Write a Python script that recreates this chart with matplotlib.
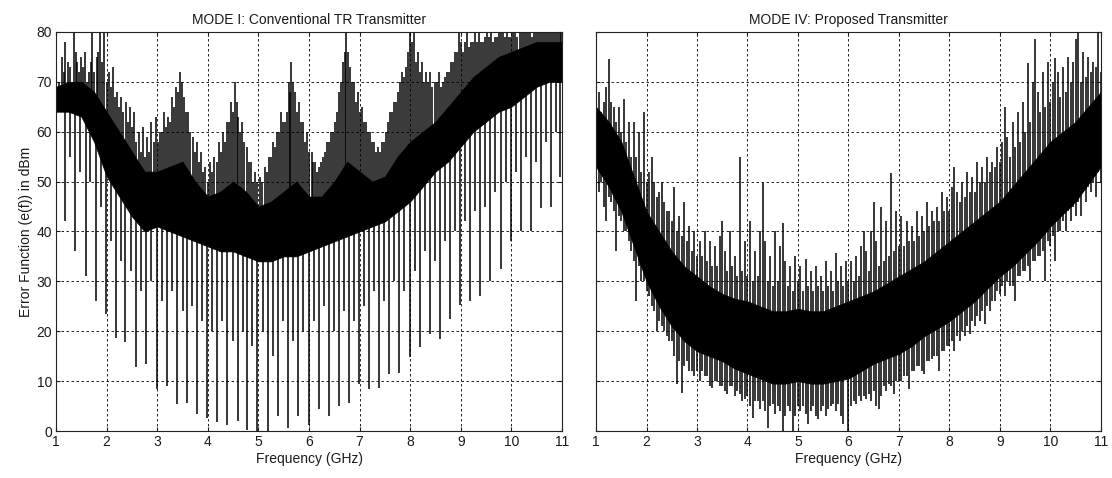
import numpy as np
import matplotlib
matplotlib.use('Agg')
import matplotlib.pyplot as plt

plt.rcParams['font.family'] = ['Liberation Sans', 'DejaVu Sans']

# Frequency grid for the dense core of each trace (GHz)
band_f = [1.0, 1.25, 1.5, 1.75, 2.0, 2.25, 2.5, 2.75, 3.0, 3.25, 3.5, 3.75, 4.0, 4.25,
          4.5, 4.75, 5.0, 5.25, 5.5, 5.75, 6.0, 6.25, 6.5, 6.75, 7.0, 7.25, 7.5, 7.75,
          8.0, 8.25, 8.5, 8.75, 9.0, 9.25, 9.5, 9.75, 10.0, 10.25, 10.5, 10.75, 11.0]

# MODE I: Conventional TR Transmitter
mode1_top = [69, 70, 70, 68, 64, 60, 56, 52, 52, 53, 54, 50, 47, 48, 50, 48, 45, 46, 48, 50, 47,
             47, 50, 54, 52, 50, 51, 55, 58, 60, 62, 65, 68, 71, 73, 75, 76, 77, 78, 78, 78]
mode1_bottom = [64, 64, 63, 58, 51, 47, 43, 40, 41, 40, 39, 38, 37, 36, 36, 35, 34, 34, 35, 35, 36,
                37, 38, 39, 40, 41, 42, 44, 46, 49, 52, 54, 57, 60, 62, 64, 65, 67, 69, 70, 70]

mode1_dip_f = [1.18, 1.38, 1.59, 1.78, 1.99, 2.19, 2.37, 2.58, 2.78, 2.99, 3.19, 3.40, 3.59, 3.78,
               3.99, 4.18, 4.38, 4.60, 4.78, 4.98, 5.19, 5.39, 5.58, 5.78, 5.99, 6.19, 6.40, 6.59,
               6.79, 6.99, 7.19, 7.38, 7.58, 7.78, 7.99, 8.19, 8.39, 8.59, 8.79, 8.99, 9.19, 9.38,
               9.58, 9.79, 9.99, 10.19, 10.39, 10.59, 10.78, 10.96]
mode1_dip = [42, 36, 31, 26, 23.5, 18.6, 17.8, 12.8, 13.4, 8.4, 9, 5.4, 5.7, 3.4,
             2.7, 1.9, 1.3, 2, 0.3, 0, 0, 3, 0.7, 3, 1.3, 4.4, 3, 5,
             5.7, 9.4, 8.4, 8.7, 11.4, 11.7, 14.8, 16.8, 19.5, 18.5, 22.5, 25.2, 26, 27,
             30, 32.5, 38, 40, 40, 44.6, 45, 51]

mode1_dip2_f = [1.28, 1.48, 1.68, 1.88, 2.09, 2.28, 2.48, 2.68, 2.88, 3.09, 3.29, 3.50, 3.69, 3.88,
                4.09, 4.28, 4.49, 4.69, 4.88, 5.09, 5.29, 5.48, 5.68, 5.88, 6.09, 6.29, 6.49, 6.69,
                6.89, 7.09, 7.29, 7.48, 7.68, 7.88, 8.09, 8.29, 8.49, 8.69, 8.89, 9.09, 9.29, 9.48,
                9.68, 9.89, 10.09, 10.29, 10.49, 10.69, 10.88]
mode1_dip2 = [55, 52, 50, 45, 38, 34, 32, 28, 30, 26, 28, 24, 25, 22,
              20, 22, 18, 20, 17, 20, 15, 22, 18, 20, 22, 25, 20, 24,
              22, 25, 28, 26, 30, 28, 32, 36, 34, 38, 40, 42, 44, 45,
              48, 50, 52, 55, 54, 58, 60]

mode1_peak_f = [1.05, 1.12, 1.18, 1.27, 1.35, 1.42, 1.5, 1.58, 1.65, 1.72, 1.8, 1.86, 1.95, 2.05,
                2.12, 2.2, 2.28, 2.38, 2.46, 2.55, 2.63, 2.72, 2.8, 2.88, 2.97, 3.05, 3.13, 3.22,
                3.3, 3.38, 3.45, 3.52, 3.6, 3.7, 3.78, 3.87, 3.95, 4.05, 4.13, 4.22, 4.3, 4.38,
                4.46, 4.53, 4.6, 4.68, 4.77, 4.86, 4.94, 5.03, 5.12, 5.2, 5.28, 5.37, 5.45, 5.52,
                5.6, 5.65, 5.73, 5.8, 5.88, 5.96, 6.05, 6.12, 6.2, 6.28, 6.36, 6.44, 6.52, 6.6,
                6.68, 6.74, 6.8, 6.88, 6.96, 7.04, 7.12, 7.2, 7.28, 7.36, 7.44, 7.52, 7.6, 7.68,
                7.76, 7.84, 7.92, 8.0, 8.08, 8.16, 8.24, 8.32, 8.4, 8.48, 8.56, 8.64, 8.72, 8.8,
                8.88, 8.96, 9.04, 9.12, 9.2, 9.28, 9.36, 9.44, 9.52, 9.6, 9.68, 9.76, 9.84, 9.92,
                10.0, 10.08, 10.16, 10.24, 10.32, 10.4, 10.48, 10.56, 10.64, 10.72, 10.8, 10.88, 10.96]
mode1_peak = [70, 75, 78, 73, 80, 74, 75, 76, 72, 80, 75, 80, 80, 72,
              73, 68, 67, 66, 65, 64, 60, 61, 59, 62, 63, 60, 64, 63,
              67, 69, 72, 67, 64, 59, 58, 56, 53, 54, 55, 58, 60, 62,
              66, 70, 63, 62, 57, 54, 52, 51, 53, 55, 58, 60, 64, 62,
              70, 74, 68, 66, 62, 60, 56, 54, 53, 55, 58, 60, 62, 68,
              74, 80, 73, 70, 68, 65, 62, 60, 58, 57, 58, 60, 64, 66,
              68, 72, 73, 80, 80, 76, 74, 72, 72, 70, 72, 70, 72, 74,
              76, 80, 76, 80, 78, 80, 80, 78, 80, 80, 79, 80, 80, 80,
              79, 80, 80, 80, 80, 79, 80, 80, 80, 80, 80, 80, 80]

mode1_peak2_f = [1.08, 1.15, 1.23, 1.31, 1.39, 1.46, 1.54, 1.62, 1.69, 1.76, 1.83, 1.9, 2.0, 2.09,
                 2.16, 2.24, 2.33, 2.42, 2.5, 2.59, 2.67, 2.76, 2.84, 2.93, 3.01, 3.09, 3.17, 3.26,
                 3.34, 3.42, 3.49, 3.56, 3.65, 3.74, 3.82, 3.91, 4.0, 4.09, 4.18, 4.26, 4.34, 4.42,
                 4.5, 4.57, 4.64, 4.72, 4.81, 4.9, 4.98, 5.07, 5.16, 5.24, 5.32, 5.41, 5.49, 5.56,
                 5.63, 5.69, 5.77, 5.84, 5.92, 6.0, 6.08, 6.16, 6.24, 6.32, 6.4, 6.48, 6.56, 6.64,
                 6.71, 6.77, 6.84, 6.92, 7.0, 7.08, 7.16, 7.24, 7.32, 7.4, 7.48, 7.56, 7.64, 7.72,
                 7.8, 7.88, 7.96, 8.04, 8.12, 8.2, 8.28, 8.36, 8.44, 8.52, 8.6, 8.68, 8.76, 8.84,
                 8.92, 9.0, 9.08, 9.16, 9.24, 9.32, 9.4, 9.48, 9.56, 9.64, 9.72, 9.8, 9.88, 9.96,
                 10.04, 10.12, 10.2, 10.28, 10.36, 10.44, 10.52, 10.6, 10.68, 10.76, 10.84, 10.92, 10.99]
mode1_peak2 = [69, 72, 74, 70, 76, 72, 73, 70, 74, 72, 76, 74, 70, 69,
               67, 65, 64, 62, 61, 58, 56, 55, 56, 58, 58, 60, 61, 62,
               65, 68, 70, 64, 60, 56, 54, 52, 50, 52, 54, 56, 58, 62,
               64, 66, 60, 58, 54, 50, 50, 50, 52, 55, 57, 60, 62, 64,
               68, 70, 64, 62, 58, 56, 54, 52, 54, 56, 58, 60, 64, 70,
               76, 76, 70, 66, 64, 62, 60, 58, 56, 56, 58, 62, 64, 66,
               70, 71, 76, 78, 74, 72, 70, 70, 69, 70, 69, 71, 72, 74,
               76, 78, 78, 77, 78, 78, 78, 79, 79, 78, 79, 80, 79, 79,
               80, 79, 80, 80, 80, 80, 80, 80, 80, 80, 80, 80, 80]

# MODE IV: Proposed Transmitter
mode4_top = [65, 62, 58, 51, 44, 40, 36, 33, 31, 29, 27.5, 26.5, 26, 25, 24, 24, 24.5, 24, 24, 25, 26,
             27, 28, 29.5, 31, 32.5, 34, 36, 38, 40, 42, 44, 46, 49, 52, 55, 58, 60, 62, 65, 68]
mode4_bottom = [53, 49, 44, 37, 30, 25, 21, 18, 16, 15, 14, 12.5, 11.5, 10.5, 9.5, 9.5, 10, 9.5, 9.5, 10,
                10.5, 12, 13.5, 14.5, 15.5, 17, 19, 20.5, 22, 24, 26, 28.5, 31, 33, 35.5, 38, 41,
                43.5, 46, 49.5, 53]

mode4_dip_f = [1.05, 1.15, 1.2, 1.25, 1.35, 1.4, 1.45, 1.55, 1.65, 1.75, 1.8, 1.85, 1.95, 2.05,
               2.15, 2.2, 2.25, 2.35, 2.4, 2.45, 2.55, 2.6, 2.7, 2.75, 2.85, 2.95, 3.0, 3.05,
               3.15, 3.25, 3.3, 3.35, 3.45, 3.55, 3.6, 3.65, 3.75, 3.85, 3.9, 3.95, 4.05, 4.1,
               4.15, 4.25, 4.35, 4.4, 4.45, 4.55, 4.65, 4.7, 4.75, 4.85, 4.9, 4.95, 5.05, 5.15,
               5.2, 5.25, 5.35, 5.4, 5.45, 5.55, 5.6, 5.65, 5.75, 5.85, 5.9, 6.0, 6.05, 6.15,
               6.25, 6.3, 6.35, 6.45, 6.55, 6.6, 6.65, 6.75, 6.85, 6.9, 6.95, 7.05, 7.15, 7.2,
               7.25, 7.35, 7.45, 7.5, 7.55, 7.65, 7.75, 7.8, 7.85, 7.95, 8.05, 8.1, 8.15, 8.25,
               8.35, 8.4, 8.45, 8.55, 8.65, 8.7, 8.75, 8.85, 8.95, 9.0, 9.05, 9.15, 9.25, 9.3,
               9.35, 9.45, 9.55, 9.6, 9.65, 9.75, 9.85, 9.9, 9.95, 10.05, 10.1, 10.15, 10.25, 10.3,
               10.35, 10.45, 10.55, 10.6, 10.65, 10.75, 10.85, 10.9, 10.95]
mode4_dip = [48, 45, 42, 47, 44, 36, 43, 40, 38, 34, 26, 33, 30, 27,
             24, 20, 22, 20, 19, 18, 15, 9.5, 7.7, 13, 12, 11, 12, 10,
             11, 9, 8.7, 10, 9, 8, 7.5, 9, 7, 7.5, 6, 6.5, 5, 2.7,
             6, 4.5, 4, 0.7, 5, 3.5, 4, 0, 3, 4, 0, 3, 4, 3.5,
             1.5, 4, 3, 2.5, 4, 3, 4.5, 5, 4, 3, 1.5, 0, 5, 5.5,
             6, 7, 6.5, 6, 5, 4.4, 7, 8, 9, 7.5, 10, 10, 11, 8.5,
             12, 13, 12, 11.5, 14, 14.5, 15, 12, 16, 17, 18, 16, 19, 20,
             21, 19.5, 22, 23, 24, 21.5, 25, 26, 28, 27.5, 29, 30, 29, 26,
             31, 32, 33, 30, 34, 35, 36, 30, 38, 39, 34, 40, 42, 40,
             44, 45, 46, 43, 48, 49, 50, 47, 52]

mode4_dip2_f = [1.1, 1.3, 1.5, 1.6, 1.7, 1.9, 2.0, 2.1, 2.3, 2.5, 2.65, 2.8, 2.9, 3.1,
                3.2, 3.4, 3.5, 3.7, 3.8, 4.0, 4.2, 4.3, 4.5, 4.6, 4.8, 5.0, 5.1, 5.3,
                5.5, 5.7, 5.8, 6.1, 6.2, 6.4, 6.5, 6.7, 6.8, 7.0, 7.1, 7.3, 7.4, 7.6,
                7.7, 7.9, 8.0, 8.2, 8.3, 8.5, 8.6, 8.8, 8.9, 9.1, 9.2, 9.4, 9.5, 9.7,
                9.8, 10.0, 10.2, 10.4, 10.5, 10.7, 10.8, 11.0]
mode4_dip2 = [50, 46, 42, 40, 36, 30, 28, 25, 21, 18, 14, 14, 12, 12,
              11, 10, 9, 9, 8, 7, 6, 6, 5.5, 5, 5, 5, 5, 5,
              5, 5.5, 5.5, 6, 7, 7.5, 8, 9, 9.5, 10, 11, 12, 13, 14,
              15, 16, 17, 18, 19, 21, 22, 24, 26, 27, 29, 31, 32, 34,
              35, 37, 40, 42, 43, 46, 48, 50]

mode4_peak_f = [1.05, 1.15, 1.2, 1.25, 1.35, 1.45, 1.55, 1.65, 1.75, 1.85, 1.95, 2.05, 2.1, 2.15,
                2.25, 2.3, 2.35, 2.45, 2.55, 2.65, 2.75, 2.85, 2.95, 3.05, 3.15, 3.25, 3.35, 3.45,
                3.5, 3.55, 3.65, 3.75, 3.85, 3.95, 4.05, 4.15, 4.25, 4.3, 4.35, 4.45, 4.55, 4.65,
                4.7, 4.75, 4.85, 4.95, 5.05, 5.15, 5.25, 5.35, 5.45, 5.55, 5.65, 5.75, 5.85, 5.95,
                6.05, 6.15, 6.25, 6.3, 6.35, 6.45, 6.5, 6.55, 6.65, 6.75, 6.85, 6.95, 7.05, 7.15,
                7.25, 7.35, 7.45, 7.55, 7.65, 7.75, 7.85, 7.95, 8.05, 8.1, 8.15, 8.25, 8.35, 8.45,
                8.55, 8.65, 8.75, 8.85, 8.95, 9.05, 9.1, 9.15, 9.25, 9.35, 9.45, 9.55, 9.65, 9.7,
                9.75, 9.85, 9.95, 10.05, 10.1, 10.15, 10.25, 10.35, 10.45, 10.5, 10.55, 10.65, 10.75, 10.85,
                10.95]
mode4_peak = [68, 66, 69, 74.6, 65, 65, 66.6, 62, 62, 60, 64, 52, 55, 50,
              48, 50, 46, 44, 49, 43, 46, 41, 40, 38, 40, 38, 37, 39,
              42, 36, 40, 35, 55, 38, 42, 36, 40, 49.7, 38, 35, 40, 37,
              41.6, 34, 33, 35, 33, 34.5, 32, 33, 31, 34, 32, 35.6, 33, 34,
              34, 35, 37, 40, 36, 40, 46, 38, 45, 42, 51.7, 44, 43, 42,
              41, 44, 43, 46, 44, 45, 48, 47, 49, 53, 48, 50, 52, 51,
              54, 53, 55, 54, 57, 58, 65, 59, 62, 64, 66, 73.8, 70, 78.5,
              68, 72, 74, 70, 74.8, 72, 73, 75, 74, 78.5, 80, 76, 75, 74,
              80]

mode4_peak2_f = [1.1, 1.3, 1.4, 1.5, 1.6, 1.7, 1.8, 1.9, 2.0, 2.2, 2.4, 2.5, 2.6, 2.7,
                 2.8, 2.9, 3.0, 3.1, 3.2, 3.3, 3.4, 3.6, 3.7, 3.8, 3.9, 4.0, 4.1, 4.2,
                 4.4, 4.5, 4.6, 4.8, 4.9, 5.0, 5.1, 5.2, 5.3, 5.4, 5.5, 5.6, 5.7, 5.8,
                 5.9, 6.0, 6.1, 6.2, 6.4, 6.6, 6.7, 6.8, 6.9, 7.0, 7.1, 7.2, 7.3, 7.4,
                 7.5, 7.6, 7.7, 7.8, 7.9, 8.0, 8.2, 8.3, 8.4, 8.5, 8.6, 8.7, 8.8, 8.9,
                 9.0, 9.2, 9.3, 9.4, 9.5, 9.6, 9.8, 9.9, 10.0, 10.2, 10.3, 10.4, 10.6, 10.7,
                 10.8, 10.9, 11.0]
mode4_peak2 = [64, 66, 62, 60, 58, 55, 55, 52, 50, 47, 44, 42, 40, 39,
               38, 36, 35, 35, 34, 33, 33, 32, 33, 31, 32, 31, 30, 31,
               30, 29, 30, 29, 28, 30, 28, 29, 28, 29, 28, 29, 28, 30,
               29, 30, 30, 31, 32, 33, 34, 35, 36, 37, 37, 38, 38, 39,
               40, 41, 42, 42, 44, 44, 46, 47, 48, 48, 50, 50, 52, 53,
               54, 55, 57, 58, 60, 62, 64, 65, 66, 67, 68, 70, 70, 71,
               72, 73, 72]

freq_ticks = [1, 2, 3, 4, 5, 6, 7, 8, 9, 10, 11]
level_ticks = [0, 10, 20, 30, 40, 50, 60, 70, 80]


def draw_panel(ax, top, bottom, dips, peaks, title):
    """Draws one error-function trace: dense core plus its spikes."""
    mid = (np.array(top) + np.array(bottom)) / 2.0
    ax.fill_between(band_f, bottom, top, color='black', lw=0.5, edgecolor='black')
    for f, v in dips:
        base = np.interp(f, band_f, mid)
        ax.vlines(f, v, base, color='black', lw=1.1)
    for f, v in peaks:
        base = np.interp(f, band_f, mid)
        ax.vlines(f, base, v, color='black', lw=1.1)

    ax.set_xlim(1, 11)
    ax.set_ylim(0, 80)
    ax.set_xticks(freq_ticks)
    ax.set_yticks(level_ticks)
    ax.grid(True, color='black', linestyle=(0, (3, 3)), lw=0.6)
    ax.set_axisbelow(True)
    ax.tick_params(direction='in', top=True, right=True, length=3, labelsize=10, pad=3,
                   colors='#1a1a1a')
    for s in ax.spines.values():
        s.set_linewidth(0.8)
        s.set_color('#222222')
    ax.set_title(title, fontsize=10, color='#1a1a1a', pad=6)
    ax.set_xlabel('Frequency (GHz)', fontsize=10, color='#1a1a1a', labelpad=2)


fig = plt.figure(figsize=(11.12, 4.78), dpi=100)
ax1 = fig.add_axes([0.0504, 0.0983, 0.455, 0.835])
ax2 = fig.add_axes([0.536, 0.0983, 0.454, 0.835])

draw_panel(ax1, mode1_top, mode1_bottom,
           list(zip(mode1_dip_f, mode1_dip)) + list(zip(mode1_dip2_f, mode1_dip2)),
           list(zip(mode1_peak_f, mode1_peak)) + list(zip(mode1_peak2_f, mode1_peak2)),
           'MODE I: Conventional TR Transmitter')
ax1.set_ylabel('Error Function (e(f)) in dBm', fontsize=10, color='#1a1a1a', labelpad=2)

draw_panel(ax2, mode4_top, mode4_bottom,
           list(zip(mode4_dip_f, mode4_dip)) + list(zip(mode4_dip2_f, mode4_dip2)),
           list(zip(mode4_peak_f, mode4_peak)) + list(zip(mode4_peak2_f, mode4_peak2)),
           'MODE IV: Proposed Transmitter')
ax2.set_yticklabels([])

fig.savefig('out.png', dpi=100)
